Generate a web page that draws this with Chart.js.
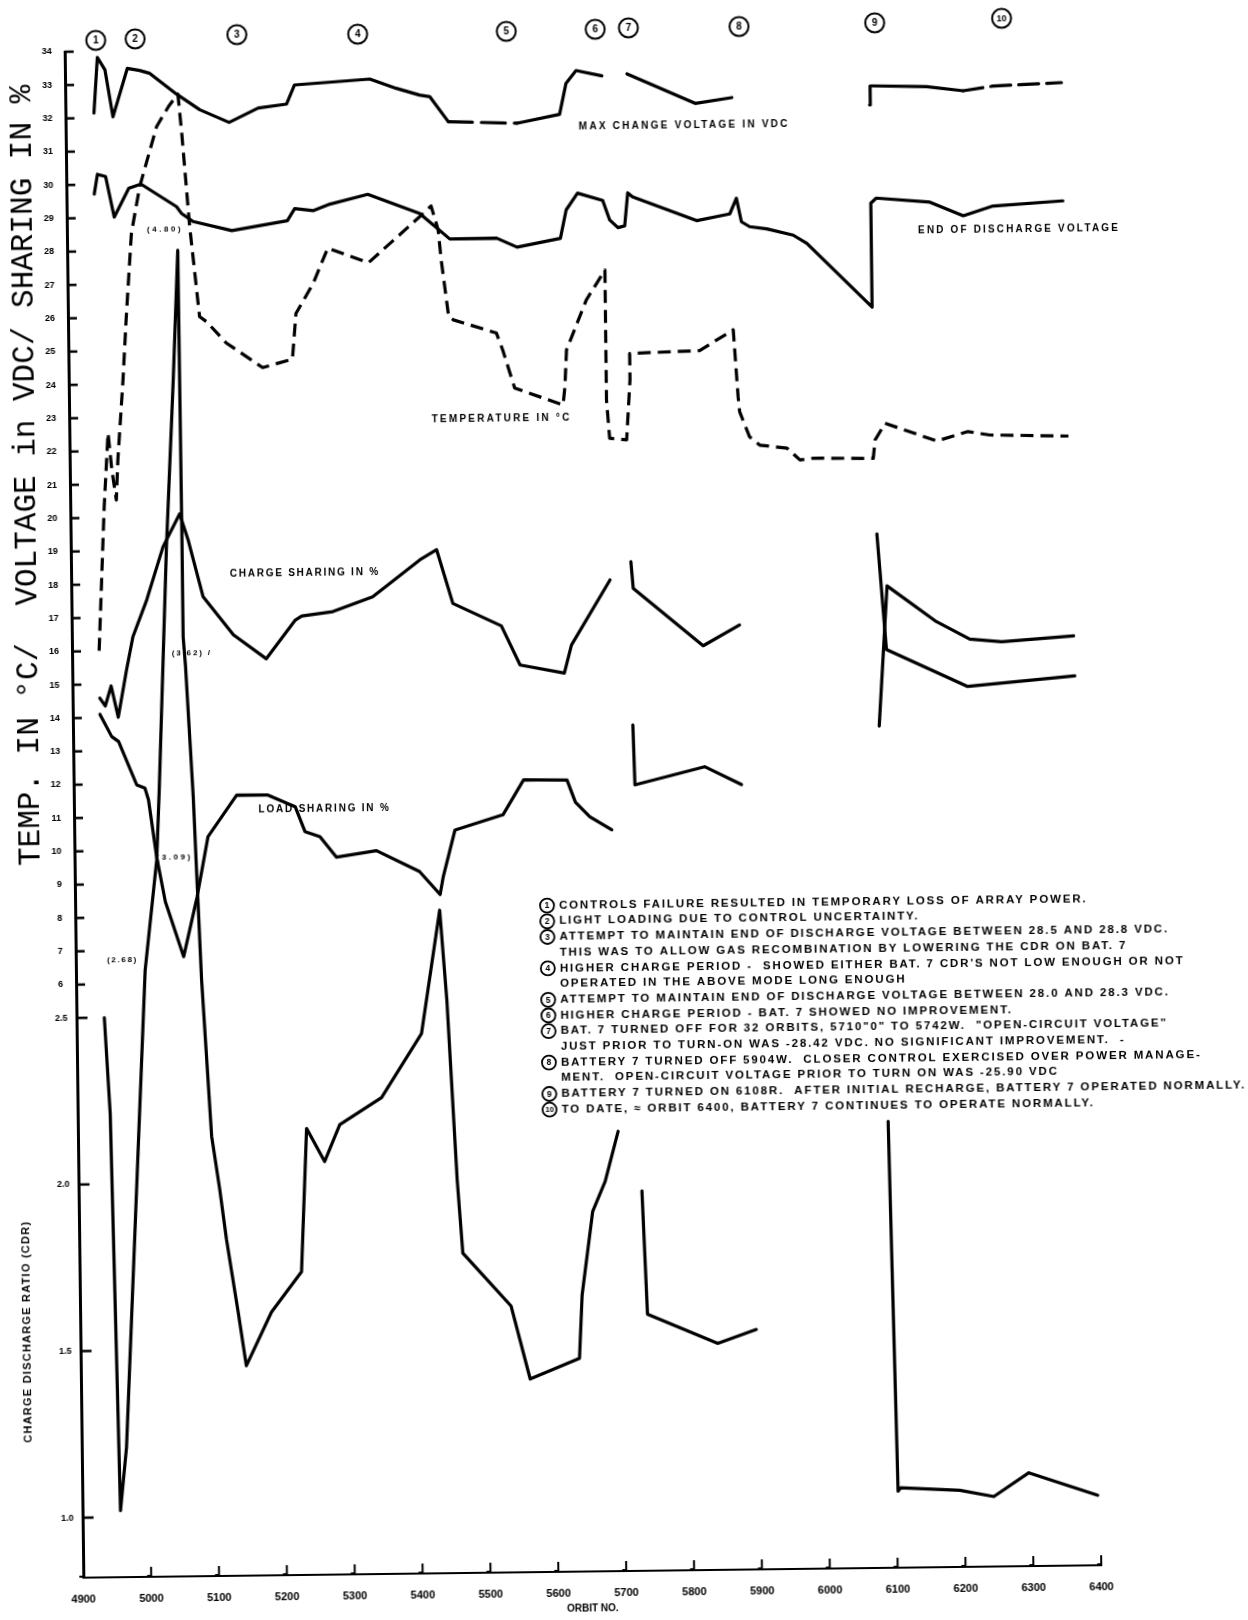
<!DOCTYPE html>
<html>
<head>
<meta charset="utf-8">
<title>Battery 7 performance vs orbit number</title>
<script src="https://cdn.jsdelivr.net/npm/chart.js@4.4.1/dist/chart.umd.min.js"></script>
<style>
  html, body { margin: 0; padding: 0; background: #fff; overflow: hidden; }
  /* the scanned sheet sits slightly askew, so the whole plot is turned a hair */
  #wrap { width: 1248px; height: 1620px; transform: rotate(-0.7deg); transform-origin: 624px 810px; }
  canvas { display: block; }
</style>
</head>
<body>
<div id="wrap"><canvas id="chart" width="1248" height="1620"></canvas></div>
<script>
// ========== DATA ==========
const orbitTicks = [4900, 5000, 5100, 5200, 5300, 5400, 5500, 5600, 5700, 5800, 5900, 6000, 6100, 6200, 6300, 6400];
const upperTicks = [6, 7, 8, 9, 10, 11, 12, 13, 14, 15, 16, 17, 18, 19, 20, 21, 22, 23, 24, 25, 26, 27, 28, 29, 30, 31, 32, 33, 34];
const cdrTicks = [1.0, 1.5, 2.0, 2.5];

// null = battery off / no data, line breaks there
const maxChargeOrbit = [4942, 4948, 4959, 4970, 4992, 5010, 5025, 5064, 5098, 5141, 5184, 5226, 5238, 5349, 5388, 5422, 5437, 5464, 5565, 5628, 5638, 5653, 5691, 5710, 5728, 5828, 5882, 5990, 6085, 6086, 6090, 6169, 6223, 6267, 6368];
const maxChargeVdc = [32.15, 33.82, 33.44, 32.03, 33.48, 33.41, 33.32, 32.69, 32.21, 31.82, 32.24, 32.35, 32.92, 33.07, 32.78, 32.57, 32.52, 31.76, 31.69, 31.94, 32.87, 33.25, 33.08, null, 33.13, 32.22, 32.38, null, 32.11, 32.68, 32.68, 32.64, 32.5, 32.63, 32.71];

const endDischargeOrbit = [4941, 4946, 4958, 4970, 4992, 5010, 5062, 5069, 5086, 5143, 5225, 5236, 5263, 5288, 5344, 5420, 5464, 5533, 5563, 5627, 5636, 5653, 5690, 5700, 5712, 5722, 5727, 5734, 5828, 5877, 5887, 5894, 5906, 5931, 5970, 5990, 6085, 6085, 6093, 6172, 6221, 6265, 6368];
const endDischargeVdc = [29.72, 30.31, 30.24, 29.02, 29.88, 30.0, 29.31, 29.11, 28.86, 28.57, 28.85, 29.21, 29.14, 29.33, 29.61, 29.02, 28.24, 28.25, 27.97, 28.22, 29.07, 29.57, 29.34, 28.75, 28.52, 28.57, 29.56, 29.44, 28.7, 28.89, 29.36, 28.65, 28.5, 28.43, 28.23, 27.98, 26.04, 29.16, 29.31, 29.17, 28.75, 29.03, 29.16];

const tempOrbit = [4940, 4950, 4957, 4962, 4968, 4971, 4980, 4986, 4995, 5008, 5034, 5052, 5066, 5071, 5081, 5094, 5104, 5133, 5186, 5230, 5236, 5262, 5284, 5344, 5420, 5437, 5447, 5451, 5461, 5468, 5531, 5540, 5557, 5628, 5631, 5634, 5664, 5692, 5692, 5696, 5721, 5727, 5727, 5830, 5880, 5886, 5888, 5902, 5917, 5957, 5976, 5996, 6084, 6087, 6102, 6124, 6178, 6224, 6256, 6372];
const tempC = [16.01, 20.33, 22.54, 21.43, 20.53, 21.73, 24.13, 26.03, 28.53, 29.92, 31.72, 32.32, 32.69, 31.51, 28.71, 26.0, 25.85, 25.2, 24.45, 24.69, 26.06, 26.96, 28.01, 27.56, 28.92, 29.24, 28.52, 27.61, 25.91, 25.81, 25.4, 24.89, 23.74, 23.22, 23.77, 24.87, 26.36, 27.25, 23.35, 22.2, 22.15, 23.95, 24.74, 24.8, 25.41, 23.4, 22.95, 22.2, 21.94, 21.84, 21.48, 21.53, 21.5, 22.05, 22.55, 22.39, 22.0, 22.27, 22.16, 22.1];

const chargeShareOrbit = [4940, 4948, 4957, 4967, 4980, 4990, 5011, 5036, 5061, 5073, 5094, 5138, 5186, 5229, 5239, 5285, 5344, 5414, 5439, 5462, 5533, 5560, 5625, 5636, 5694, 5710, 5725, 5728, 5830, 5884, 5990, 6088, 6100, 6219, 6377];
const chargeSharePct = [14.59, 14.35, 14.95, 14.01, 15.43, 16.42, 17.52, 19.11, 20.09, 19.31, 17.6, 16.44, 15.71, 16.85, 16.98, 17.1, 17.53, 18.62, 18.92, 17.3, 16.61, 15.43, 15.17, 16.01, 17.95, null, 18.49, 17.69, 15.94, 16.55, null, 19.23, 15.76, 14.62, 14.9];

const loadShareOrbit = [4940, 4957, 4967, 4993, 5005, 5010, 5021, 5033, 5059, 5080, 5097, 5140, 5186, 5226, 5240, 5262, 5286, 5345, 5408, 5438, 5443, 5461, 5532, 5563, 5627, 5639, 5660, 5692, 5710, 5725, 5727, 5830, 5884, 5990, 6088, 6102, 6174, 6223, 6270, 6376];
const loadSharePct = [14.1, 13.43, 13.28, 11.97, 11.87, 11.52, 9.81, 8.46, 6.8, 8.6, 10.39, 11.63, 11.62, 11.26, 10.51, 10.35, 9.73, 9.91, 9.27, 8.57, 9.11, 10.5, 10.94, 11.98, 11.96, 11.29, 10.85, 10.45, null, 13.59, 11.79, 12.31, 11.76, null, 13.47, 17.67, 16.58, 16.04, 15.95, 16.1];

const cdrOrbit = [4941, 4948, 4956, 4966, 5002, 5021, 5026, 5041, 5054, 5063, 5064, 5064, 5067, 5076, 5080, 5085, 5097, 5108, 5117, 5133, 5144, 5182, 5227, 5237, 5263, 5286, 5348, 5408, 5437, 5446, 5458, 5465, 5535, 5562, 5635, 5640, 5657, 5676, 5696, 5712, 5730, 5736, 5839, 5896, 5990, 6094, 6102, 6106, 6193, 6243, 6295, 6396];
const cdrRatio = [2.50, 2.21, 1.02, 1.21, 2.64, 2.97, 3.18, 3.91, 4.41, 4.80, 3.93, 3.64, 3.55, 3.16, 2.91, 2.61, 2.14, 1.98, 1.83, 1.61, 1.45, 1.61, 1.73, 2.16, 2.06, 2.17, 2.25, 2.44, 2.81, 2.54, 2.00, 1.78, 1.62, 1.40, 1.46, 1.65, 1.90, 1.99, 2.14, null, 1.96, 1.59, 1.50, 1.54, null, 2.16, 1.05, 1.06, 1.05, 1.03, 1.10, 1.03];

const notes = [
  ["1", "CONTROLS FAILURE RESULTED IN TEMPORARY LOSS OF ARRAY POWER."],
  ["2", "LIGHT LOADING DUE TO CONTROL UNCERTAINTY."],
  ["3", "ATTEMPT TO MAINTAIN END OF DISCHARGE VOLTAGE BETWEEN 28.5 AND 28.8 VDC."],
  ["", "THIS WAS TO ALLOW GAS RECOMBINATION BY LOWERING THE CDR ON BAT. 7"],
  ["4", "HIGHER CHARGE PERIOD -  SHOWED EITHER BAT. 7 CDR'S NOT LOW ENOUGH OR NOT"],
  ["", "OPERATED IN THE ABOVE MODE LONG ENOUGH"],
  ["5", "ATTEMPT TO MAINTAIN END OF DISCHARGE VOLTAGE BETWEEN 28.0 AND 28.3 VDC."],
  ["6", "HIGHER CHARGE PERIOD - BAT. 7 SHOWED NO IMPROVEMENT."],
  ["7", "BAT. 7 TURNED OFF FOR 32 ORBITS, 5710\"0\" TO 5742W.  \"OPEN-CIRCUIT VOLTAGE\""],
  ["", "JUST PRIOR TO TURN-ON WAS -28.42 VDC. NO SIGNIFICANT IMPROVEMENT.  -"],
  ["8", "BATTERY 7 TURNED OFF 5904W.  CLOSER CONTROL EXERCISED OVER POWER MANAGE-"],
  ["", "MENT.  OPEN-CIRCUIT VOLTAGE PRIOR TO TURN ON WAS -25.90 VDC"],
  ["9", "BATTERY 7 TURNED ON 6108R.  AFTER INITIAL RECHARGE, BATTERY 7 OPERATED NORMALLY."],
  ["10", "TO DATE, \u2248 ORBIT 6400, BATTERY 7 CONTINUES TO OPERATE NORMALLY."]
];

// circled event numbers along the top (orbit where each period starts)
const eventOrbit = [4946, 5004, 5154, 5332, 5551, 5682, 5731, 5894, 6094, 6281];

// ========== HELPERS ==========
const SANS = '"Liberation Sans", Arial, sans-serif';
Chart.defaults.font.family = SANS;
Chart.defaults.color = "#000";

function pts(xs, ys) {
  return xs.map((o, i) => ({ x: o, y: ys[i] }));
}

function seg(ctx, x1, y1, x2, y2) {
  ctx.beginPath();
  ctx.moveTo(x1, y1);
  ctx.lineTo(x2, y2);
  ctx.stroke();
}

// stretch a line of caps to the width it has on the sheet
function spacedText(ctx, text, x, y, width) {
  ctx.letterSpacing = "0px";
  const w = ctx.measureText(text).width;
  ctx.letterSpacing = Math.max(0, (width - w) / text.length) + "px";
  ctx.fillText(text, x, y);
  ctx.letterSpacing = "0px";
}

function circled(ctx, label, cx, cy, r, lw, fontPx) {
  ctx.lineWidth = lw;
  ctx.beginPath();
  ctx.arc(cx, cy, r, 0, Math.PI * 2);
  ctx.stroke();
  ctx.font = `bold ${label.length > 1 ? fontPx - 1 : fontPx}px ${SANS}`;
  ctx.textAlign = "center";
  ctx.textBaseline = "middle";
  ctx.fillText(label, cx, cy + 0.5);
}

// ---------- overlay: inward ticks, titles, curve names, notes ----------
const overlay = {
  id: "overlay",
  afterDraw(chart) {
    const { ctx, chartArea: a } = chart;
    const { x, y, yCdr } = chart.scales;
    ctx.save();
    ctx.strokeStyle = "#000";
    ctx.fillStyle = "#000";

    // tick marks point into the plot
    ctx.lineWidth = 2.5;
    upperTicks.forEach(v => {
      const py = y.getPixelForValue(v);
      seg(ctx, a.left, py, a.left + 9, py);
    });
    cdrTicks.forEach(c => {
      const py = yCdr.getPixelForValue(c);
      seg(ctx, a.left, py, a.left + 11, py);
    });
    ctx.lineWidth = 2;
    orbitTicks.forEach(o => {
      const px = x.getPixelForValue(o);
      seg(ctx, px, a.bottom, px, a.bottom - 10);
      seg(ctx, px, a.bottom - 1, px - 4, a.bottom - 1);
    });

    // CDR scale labels share the left axis
    ctx.font = `bold 9px ${SANS}`;
    ctx.textAlign = "right";
    ctx.textBaseline = "middle";
    cdrTicks.forEach(c => ctx.fillText(c.toFixed(1), a.left - 9, yCdr.getPixelForValue(c)));

    // axis titles
    ctx.save();
    ctx.translate(a.left - 43, y.getPixelForValue(21.3));
    ctx.rotate(-Math.PI / 2);
    ctx.font = '31px "Liberation Mono", "DejaVu Sans Mono", monospace';
    ctx.textAlign = "center";
    ctx.textBaseline = "middle";
    ctx.fillText("TEMP. IN \u00B0C/  VOLTAGE in VDC/ SHARING IN %", 0, 0);
    ctx.restore();

    ctx.save();
    ctx.translate(a.left - 53, yCdr.getPixelForValue(1.56));
    ctx.rotate(-Math.PI / 2);
    ctx.font = `bold 11px ${SANS}`;
    ctx.textAlign = "left";
    ctx.textBaseline = "middle";
    spacedText(ctx, "CHARGE DISCHARGE RATIO (CDR)", -111, 0, 222);
    ctx.restore();

    // curve names and off-scale CDR readings
    ctx.textAlign = "left";
    ctx.textBaseline = "middle";
    ctx.font = `bold 10px ${SANS}`;
    [
      ["MAX CHANGE VOLTAGE IN VDC", 5656, 31.55, 211],
      ["END OF DISCHARGE VOLTAGE", 6154, 28.31, 202],
      ["TEMPERATURE IN \u00B0C", 5434, 22.84, 140],
      ["CHARGE SHARING IN %", 5134, 18.27, 150],
      ["LOAD SHARING IN %", 5172, 11.17, 132]
    ].forEach(([t, o, v, w]) => spacedText(ctx, t, x.getPixelForValue(o), y.getPixelForValue(v), w));
    ctx.font = `bold 8px ${SANS}`;
    [
      ["(4.80)", 5018, 28.62, 36],
      ["(3.62) /", 5047, 15.92, 40],
      ["(3.09)", 5021, 9.8, 36],
      ["(2.68)", 4946, 6.73, 31]
    ].forEach(([t, o, v, w]) => spacedText(ctx, t, x.getPixelForValue(o), y.getPixelForValue(v), w));

    // circled period numbers above the plot
    const lift = [11, 12, 15, 14, 15, 16, 17, 17, 19, 22];
    eventOrbit.forEach((o, i) => {
      circled(ctx, String(i + 1), x.getPixelForValue(o), a.top - lift[i], 9.5, 2, 10);
    });

    // numbered notes
    const nx = x.getPixelForValue(5613);
    const ny = y.getPixelForValue(8.2);
    ctx.font = `bold 11.5px ${SANS}`;
    ctx.letterSpacing = "0px";
    const ref = notes[12][1];
    const spacing = Math.max(0, (685 - ctx.measureText(ref).width) / ref.length);
    notes.forEach(([n, t], i) => {
      const ly = ny + i * 15.7;
      if (n) circled(ctx, n, nx - 12, ly, 7, 1.8, 8.5);
      ctx.font = `bold 11.5px ${SANS}`;
      ctx.textAlign = "left";
      ctx.textBaseline = "middle";
      ctx.letterSpacing = spacing + "px";
      ctx.fillText(t, nx, ly);
      ctx.letterSpacing = "0px";
    });

    ctx.restore();
  }
};

// ========== CHART ==========
const lineStyle = {
  borderColor: "#000",
  borderWidth: 3.2,
  pointRadius: 0,
  tension: 0,
  fill: false,
  spanGaps: false,
  borderJoinStyle: "round",
  borderCapStyle: "round"
};

// the max charge trace was drawn broken over two stretches
const brokenMaxCharge = c => {
  const o = c.p0.parsed.x;
  if (o >= 5464 && o < 5565) return [24, 9];
  if (o >= 6223) return [20, 8];
  return undefined;
};

new Chart(document.getElementById("chart"), {
  type: "line",
  data: {
    datasets: [
      { label: "Max charge voltage (VDC)", data: pts(maxChargeOrbit, maxChargeVdc), ...lineStyle, segment: { borderDash: brokenMaxCharge } },
      { label: "End of discharge voltage (VDC)", data: pts(endDischargeOrbit, endDischargeVdc), ...lineStyle },
      { label: "Temperature (\u00B0C)", data: pts(tempOrbit, tempC), ...lineStyle, borderDash: [13, 7], borderCapStyle: "butt" },
      { label: "Charge sharing (%)", data: pts(chargeShareOrbit, chargeSharePct), ...lineStyle },
      { label: "Load sharing (%)", data: pts(loadShareOrbit, loadSharePct), ...lineStyle },
      { label: "Charge discharge ratio", data: pts(cdrOrbit, cdrRatio), yAxisID: "yCdr", ...lineStyle }
    ]
  },
  options: {
    responsive: false,
    animation: false,
    devicePixelRatio: 1,
    layout: { padding: { top: 45, right: 156, left: 0, bottom: 0 } },
    plugins: { legend: { display: false }, tooltip: { enabled: false } },
    scales: {
      x: {
        type: "linear",
        min: 4900,
        max: 6400,
        afterBuildTicks: s => { s.ticks = orbitTicks.map(v => ({ value: v })); },
        afterFit: s => { s.height = 49; },
        grid: { display: false, drawTicks: false },
        border: { display: true, width: 2, color: "#000" },
        ticks: {
          autoSkip: false,
          maxRotation: 0,
          padding: 15,
          color: "#000",
          font: { size: 11, weight: "bold" },
          callback: v => String(v)
        },
        title: {
          display: true,
          text: "ORBIT NO.",
          color: "#000",
          font: { size: 10, weight: "bold" },
          padding: { top: 4, bottom: 6 }
        }
      },
      y: {
        type: "linear",
        position: "left",
        min: -11.8,
        max: 34,
        afterBuildTicks: s => { s.ticks = upperTicks.map(v => ({ value: v })); },
        afterFit: s => { s.width = 74; },
        grid: { display: false, drawTicks: false },
        border: { display: true, width: 3, color: "#000" },
        ticks: {
          padding: 13,
          color: "#000",
          font: { size: 9, weight: "bold" },
          callback: v => String(v)
        }
      },
      // CDR runs on its own scale, ten times finer, lined up so 2.5 sits just under 6
      yCdr: {
        type: "linear",
        position: "left",
        min: 0.82,
        max: 5.4,
        display: false
      }
    }
  },
  plugins: [overlay]
});
</script>
</body>
</html>
